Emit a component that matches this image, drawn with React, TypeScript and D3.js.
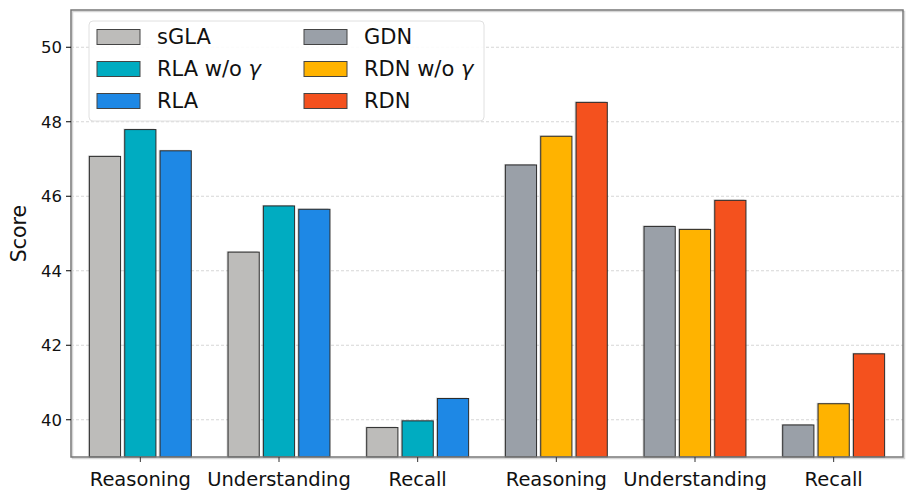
import * as d3 from "d3";

// tasks along the x axis (two groups of three)
const categories = ["Reasoning", "Understanding", "Recall"];
const groupA = ["sGLA", "RLA w/o γ", "RLA"];
const groupB = ["GDN", "RDN w/o γ", "RDN"];

// scores
const sGLA = [47.07, 44.5, 39.79];
const RLAnoGamma = [47.79, 45.74, 39.97];
const RLA = [47.22, 45.65, 40.57];
const GDN = [46.84, 45.19, 39.86];
const RDNnoGamma = [47.61, 45.11, 40.43];
const RDN = [48.52, 45.89, 41.77];

const yTicks = [40, 42, 44, 46, 48, 50];

const COLORS: Record<string, string> = {
  sGLA: "#bdbcba",
  "RLA w/o γ": "#00acc1",
  RLA: "#1e88e5",
  GDN: "#9aa0a8",
  "RDN w/o γ": "#ffb300",
  RDN: "#f4511e",
};

const W = 914;
const H = 500;
const M = { left: 71, right: 11, top: 10, bottom: 43 };
const FONT = "DejaVu Sans, sans-serif";

type Bar = { name: string; pos: number; value: number };

const bars: Bar[] = [];
const leftSeries = [sGLA, RLAnoGamma, RLA];
const rightSeries = [GDN, RDNnoGamma, RDN];
categories.forEach((c, ci) => {
  leftSeries.forEach((vals, si) => {
    bars.push({ name: groupA[si], pos: ci + (si - 1) * 0.255, value: vals[ci] });
  });
});
categories.forEach((c, ci) => {
  rightSeries.forEach((vals, si) => {
    bars.push({ name: groupB[si], pos: 3 + ci + (si - 1) * 0.255, value: vals[ci] });
  });
});
const xLabels = [...categories, ...categories];

const label = (name: string) => {
  if (name.endsWith("γ")) {
    return (
      <>
        {name.slice(0, -1)}
        <tspan fontStyle="italic">γ</tspan>
      </>
    );
  }
  return name;
};

export default function App() {
  const x = d3.scaleLinear().domain([-0.5, 5.5]).range([M.left, W - M.right]);
  const y = d3.scaleLinear().domain([39, 51]).range([H - M.bottom, M.top]);
  const bw = x(0.225) - x(0);
  const y0 = y(39);

  const legendItems = [
    { name: groupA[0], col: 0, row: 0 },
    { name: groupA[1], col: 0, row: 1 },
    { name: groupA[2], col: 0, row: 2 },
    { name: groupB[0], col: 1, row: 0 },
    { name: groupB[1], col: 1, row: 1 },
    { name: groupB[2], col: 1, row: 2 },
  ];

  return (
    <div style={{ position: "absolute", left: 0, top: 0 }}>
      <svg width={W} height={H} style={{ display: "block", background: "#fff" }} fontFamily={FONT}>
        {/* grid */}
        {yTicks.map((t) => (
          <line key={t} x1={x(-0.5)} x2={x(5.5)} y1={y(t)} y2={y(t)}
            stroke="#cccccc" strokeWidth={0.8} strokeDasharray="3,2" />
        ))}

        {/* bars with a soft shadow */}
        {bars.map((b, i) => (
          <g key={i}>
            <rect x={x(b.pos) - bw / 2 - 1.5} y={y(b.value) - 1} width={bw} height={y0 - y(b.value) + 1}
              fill="#000" opacity={0.15} />
            <rect x={x(b.pos) - bw / 2} y={y(b.value)} width={bw} height={y0 - y(b.value)}
              fill={COLORS[b.name]} stroke="#2b2b2b" strokeWidth={1} />
          </g>
        ))}

        {/* spines */}
        <rect x={M.left + 1.5} y={M.top + 1.5} width={W - M.left - M.right} height={H - M.top - M.bottom}
          fill="none" stroke="#d6d6d6" strokeWidth={1.5} />
        <rect x={M.left} y={M.top} width={W - M.left - M.right} height={H - M.top - M.bottom}
          fill="none" stroke="#777" strokeWidth={1.5} />

        {/* y axis */}
        {yTicks.map((t) => (
          <g key={t}>
            <line x1={M.left - 5} x2={M.left} y1={y(t)} y2={y(t)} stroke="#000" strokeWidth={1} />
            <text x={M.left - 9} y={y(t)} dy="0.35em" textAnchor="end" fontSize={16.5} fill="#111">{t}</text>
          </g>
        ))}
        <text transform={`translate(26,${(y(39) + y(51)) / 2}) rotate(-90)`} textAnchor="middle"
          fontSize={20.5} fill="#111">Score</text>

        {/* x axis */}
        {xLabels.map((c, i) => (
          <g key={i}>
            <line x1={x(i)} x2={x(i)} y1={y0} y2={y0 + 5} stroke="#333" strokeWidth={1} />
            <text x={x(i)} y={486} textAnchor="middle" fontSize={19.5} fill="#111">{c}</text>
          </g>
        ))}

        {/* legend */}
        <g>
          <rect x={89} y={21} width={395} height={100} rx={4} fill="#fff" fillOpacity={0.9}
            stroke="#e0e0e0" strokeWidth={1} />
          {legendItems.map((it) => {
            const lx = 97 + it.col * 207;
            const ly = 37 + it.row * 32;
            return (
              <g key={it.name}>
                <rect x={lx} y={ly - 7.5} width={43} height={15} fill={COLORS[it.name]}
                  stroke="#444" strokeWidth={1} />
                <text x={lx + 60} y={ly} dy="0.35em" fontSize={21} fill="#111">{label(it.name)}</text>
              </g>
            );
          })}
        </g>
      </svg>
    </div>
  );
}
